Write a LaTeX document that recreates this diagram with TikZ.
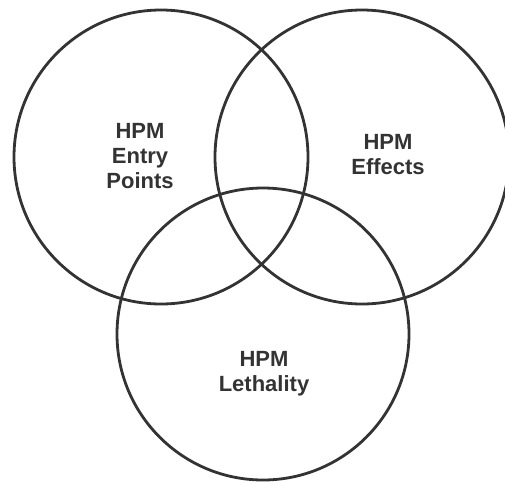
\documentclass[tikz,border=0pt]{standalone}
\usepackage{fontspec}
\setmainfont{Liberation Sans}
\begin{document}
\begin{tikzpicture}[x=1pt,y=-1pt,
  ring/.style={circle, draw=black!80, line width=2.8pt, minimum size=294pt, inner sep=0pt},
  caption/.style={align=center, text=black!80, font=\fontsize{22}{25}\selectfont\bfseries, inner sep=0pt}]
  \useasboundingbox (0,0) rectangle (505,483);
  \begin{scope}
    \clip (0,0) rectangle (505,483);
    % the three overlapping sets
    \node[ring] (entry) at (161,157) {};
    \node[ring] (effects) at (362,157) {};
    \node[ring, minimum size=292pt] (lethality) at (263,334) {};
  \end{scope}
  % set labels
  \node[caption] (entrytext) at (140,156) {HPM\\Entry\\Points};
  \node[caption] (effectstext) at (388,155) {HPM\\Effects};
  \node[caption] (lethalitytext) at (264,374) {HPM\\Lethality};
\end{tikzpicture}
\end{document}
